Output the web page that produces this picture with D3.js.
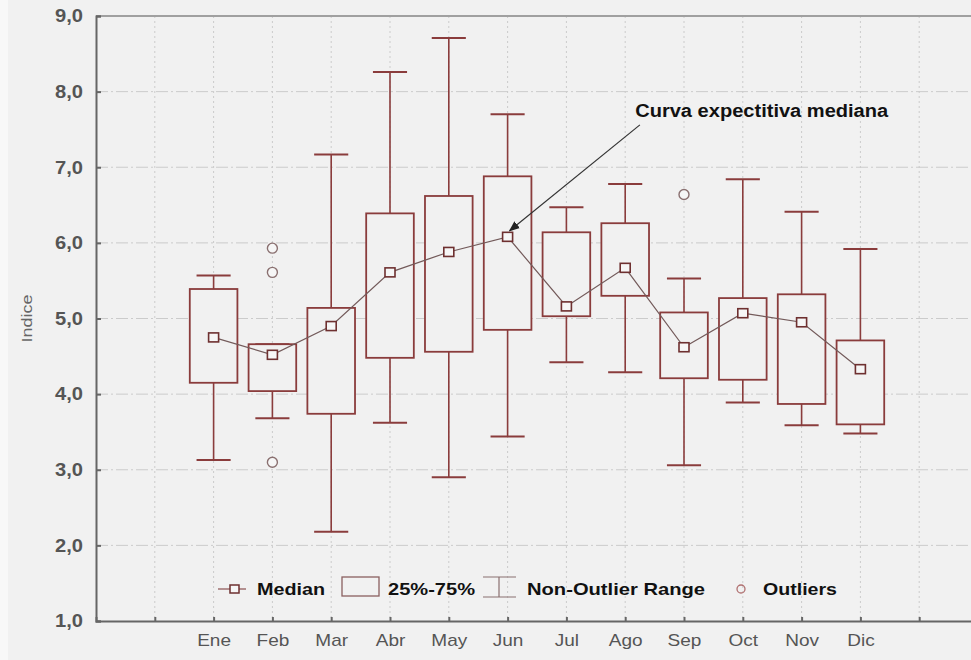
<!DOCTYPE html>
<html>
<head>
<meta charset="utf-8">
<script src="https://cdn.jsdelivr.net/npm/d3@7"></script>
<style>
  body { margin: 0; background: #f1f1f1; }
  svg { display: block; font-family: "Liberation Sans", Arial, sans-serif; }
</style>
</head>
<body>
<div id="chart"></div>
<script>
const MONTHS = ["Ene", "Feb", "Mar", "Abr", "May", "Jun", "Jul", "Ago", "Sep", "Oct", "Nov", "Dic"];
const MEDIANS = [4.75, 4.52, 4.90, 5.61, 5.88, 6.08, 5.16, 5.67, 4.62, 5.07, 4.95, 4.33];
const Q1 = [4.15, 4.04, 3.74, 4.48, 4.56, 4.85, 5.03, 5.30, 4.21, 4.19, 3.87, 3.60];
const Q3 = [5.39, 4.66, 5.14, 6.39, 6.62, 6.88, 6.14, 6.26, 5.08, 5.27, 5.32, 4.71];
const WHISKER_LOW = [3.13, 3.68, 2.18, 3.62, 2.90, 3.44, 4.42, 4.29, 3.06, 3.89, 3.59, 3.48];
const WHISKER_HIGH = [5.57, 4.66, 7.17, 8.26, 8.71, 7.70, 6.47, 6.78, 5.53, 6.84, 6.41, 5.92];
const OUTLIER_MONTHS = ["Feb", "Feb", "Feb", "Sep"];
const OUTLIER_VALUES = [5.93, 5.61, 3.10, 6.64];
const Y_TICKS = [1, 2, 3, 4, 5, 6, 7, 8, 9];

const WIDTH = 971, HEIGHT = 660;
const BOX_COLOR = "#8a3c3c";
const fmt = d => d3.format(".1f")(d).replace(".", ",");

const svg = d3.select("#chart").append("svg")
  .attr("width", WIDTH)
  .attr("height", HEIGHT);

svg.append("rect").attr("width", WIDTH).attr("height", HEIGHT).attr("fill", "#f1f1f1");
svg.append("rect").attr("width", 8).attr("height", HEIGHT).attr("fill", "#f8f8f8");

// month index -> x ; extra empty slots at both ends
const x = d3.scaleLinear().domain([-2, 13]).range([96, 978]);
const y = d3.scaleLinear().domain([1, 9]).range([621, 16]);
const step = x(1) - x(0);
const boxW = step * 0.81;
const capW = step * 0.58;

const data = MONTHS.map((m, i) => ({
  month: m, i, median: MEDIANS[i], q1: Q1[i], q3: Q3[i], lo: WHISKER_LOW[i], hi: WHISKER_HIGH[i]
}));
const outliers = OUTLIER_MONTHS.map((m, k) => ({ i: MONTHS.indexOf(m), value: OUTLIER_VALUES[k] }));

// grid
const xTicks = d3.range(-1, 13);
svg.append("g").selectAll("line")
  .data(Y_TICKS.slice(1, -1))
  .join("line")
  .attr("x1", x(-2)).attr("x2", x(13))
  .attr("y1", d => y(d)).attr("y2", d => y(d))
  .attr("stroke", "#cbcbcb").attr("stroke-width", 1)
  .attr("stroke-dasharray", "12,3,2,3");

svg.append("g").selectAll("line")
  .data(xTicks)
  .join("line")
  .attr("x1", d => x(d)).attr("x2", d => x(d))
  .attr("y1", y(9)).attr("y2", y(1))
  .attr("stroke", "#cbcbcb").attr("stroke-width", 1)
  .attr("stroke-dasharray", "2,3");

// frame
svg.append("line").attr("x1", x(-2)).attr("x2", x(13)).attr("y1", y(9)).attr("y2", y(9))
  .attr("stroke", "#a0a0a0").attr("stroke-width", 2);

// axes
const yAxis = svg.append("g")
  .attr("transform", `translate(${x(-2)},0)`)
  .call(d3.axisLeft(y).tickValues(Y_TICKS).tickFormat(fmt).tickSize(-5).tickPadding(13));
yAxis.select(".domain").attr("stroke", "#666").attr("stroke-width", 2);
yAxis.selectAll(".tick line").attr("stroke", "#666").attr("stroke-width", 2);
yAxis.selectAll(".tick text")
  .attr("fill", "#555").attr("font-size", 18).attr("font-weight", "bold")
  .attr("textLength", 28).attr("lengthAdjust", "spacingAndGlyphs");

const xAxis = svg.append("g")
  .attr("transform", `translate(0,${y(1)})`)
  .call(d3.axisBottom(x).tickValues(xTicks).tickFormat(d => MONTHS[d] || "").tickSize(-4).tickPadding(13));
xAxis.select(".domain").attr("stroke", "#666").attr("stroke-width", 2);
xAxis.selectAll(".tick line").attr("stroke", "#666").attr("stroke-width", 2);
xAxis.selectAll(".tick text").attr("fill", "#555").attr("font-size", 17)
  .attr("transform", "scale(1.1,1)")
  .attr("x", 0);
// keep labels centred on their tick after the horizontal stretch
xAxis.selectAll(".tick").each(function () {
  const t = d3.select(this);
  t.select("text").attr("transform", null).style("transform-box", "fill-box")
    .style("transform-origin", "center").style("transform", "scaleX(1.12)");
});

svg.append("text")
  .attr("transform", `translate(32,${y(5)}) rotate(-90)`)
  .attr("text-anchor", "middle")
  .attr("fill", "#666").attr("font-size", 14)
  .attr("textLength", 48).attr("lengthAdjust", "spacingAndGlyphs")
  .text("Indice");

// whiskers
const boxes = svg.append("g").selectAll("g")
  .data(data)
  .join("g");

boxes.append("line")
  .attr("x1", d => x(d.i)).attr("x2", d => x(d.i))
  .attr("y1", d => y(d.lo)).attr("y2", d => y(d.hi))
  .attr("stroke", BOX_COLOR).attr("stroke-width", 1.6);

boxes.selectAll(".cap")
  .data(d => [d.lo, d.hi].map(v => ({ i: d.i, v })))
  .join("line")
  .attr("class", "cap")
  .attr("x1", d => x(d.i) - capW / 2).attr("x2", d => x(d.i) + capW / 2)
  .attr("y1", d => y(d.v)).attr("y2", d => y(d.v))
  .attr("stroke", BOX_COLOR).attr("stroke-width", 2);

boxes.append("rect")
  .attr("x", d => x(d.i) - boxW / 2)
  .attr("width", boxW)
  .attr("y", d => y(d.q3))
  .attr("height", d => y(d.q1) - y(d.q3))
  .attr("fill", "#f1f1f1")
  .attr("stroke", BOX_COLOR).attr("stroke-width", 1.8);

// outliers
svg.append("g").selectAll("circle")
  .data(outliers)
  .join("circle")
  .attr("cx", d => x(d.i)).attr("cy", d => y(d.value))
  .attr("r", 5)
  .attr("fill", "#f6f6f6")
  .attr("stroke", "#8a7070").attr("stroke-width", 1.4);

// median curve
svg.append("path")
  .datum(data)
  .attr("fill", "none")
  .attr("stroke", "#735a5a").attr("stroke-width", 1.2)
  .attr("d", d3.line().x(d => x(d.i)).y(d => y(d.median)));

svg.append("g").selectAll("rect")
  .data(data)
  .join("rect")
  .attr("x", d => x(d.i) - 5).attr("y", d => y(d.median) - 4.5)
  .attr("width", 10).attr("height", 9)
  .attr("fill", "#f6f6f6")
  .attr("stroke", "#6e3030").attr("stroke-width", 1.6);

// annotation
const NOTE = { text: "Curva expectitiva mediana", i: 7.17, value: 7.66, fromI: 7.25, fromV: 7.56 };
const defs = svg.append("defs");
defs.append("marker")
  .attr("id", "arrow")
  .attr("viewBox", "0 0 10 10")
  .attr("refX", 9).attr("refY", 5)
  .attr("markerWidth", 9).attr("markerHeight", 9)
  .attr("orient", "auto")
  .append("path")
  .attr("d", "M0,1 L10,5 L0,9 Z")
  .attr("fill", "#222");

svg.append("line")
  .attr("x1", x(NOTE.fromI)).attr("y1", y(NOTE.fromV))
  .attr("x2", x(5) + 2).attr("y2", y(MEDIANS[5]) - 6)
  .attr("stroke", "#333").attr("stroke-width", 1.2)
  .attr("marker-end", "url(#arrow)");

svg.append("text")
  .attr("x", x(NOTE.i)).attr("y", y(NOTE.value))
  .attr("font-size", 18).attr("font-weight", "bold").attr("fill", "#111")
  .attr("textLength", 253).attr("lengthAdjust", "spacingAndGlyphs")
  .text(NOTE.text);

// legend
const legend = svg.append("g").attr("transform", "translate(0,589)");
legend.append("line").attr("x1", 218).attr("x2", 246).attr("y1", 0).attr("y2", 0)
  .attr("stroke", "#8a5050").attr("stroke-width", 1.2);
legend.append("rect").attr("x", 230).attr("y", -4).attr("width", 9).attr("height", 8)
  .attr("fill", "#f6f6f6").attr("stroke", "#6e3030").attr("stroke-width", 1.5);
legend.append("rect").attr("x", 342).attr("y", -12).attr("width", 37).attr("height", 19)
  .attr("fill", "none").attr("stroke", "#8a6060").attr("stroke-width", 1.3);
legend.append("line").attr("x1", 483).attr("x2", 516).attr("y1", -12).attr("y2", -12)
  .attr("stroke", "#8a7070").attr("stroke-width", 1.2);
legend.append("line").attr("x1", 499).attr("x2", 499).attr("y1", -12).attr("y2", 8)
  .attr("stroke", "#8a7070").attr("stroke-width", 1.2);
legend.append("line").attr("x1", 483).attr("x2", 516).attr("y1", 8).attr("y2", 8)
  .attr("stroke", "#8a7070").attr("stroke-width", 1.2);
legend.append("circle").attr("cx", 741).attr("cy", 0).attr("r", 4)
  .attr("fill", "none").attr("stroke", "#b07070").attr("stroke-width", 1.3);

legend.selectAll("text")
  .data([["Median", 257, 68], ["25%-75%", 388, 87], ["Non-Outlier Range", 527, 178], ["Outliers", 763, 74]])
  .join("text")
  .attr("x", d => d[1]).attr("y", 6)
  .attr("font-size", 17).attr("font-weight", "bold").attr("fill", "#111")
  .attr("textLength", d => d[2]).attr("lengthAdjust", "spacingAndGlyphs")
  .text(d => d[0]);
</script>
</body>
</html>
